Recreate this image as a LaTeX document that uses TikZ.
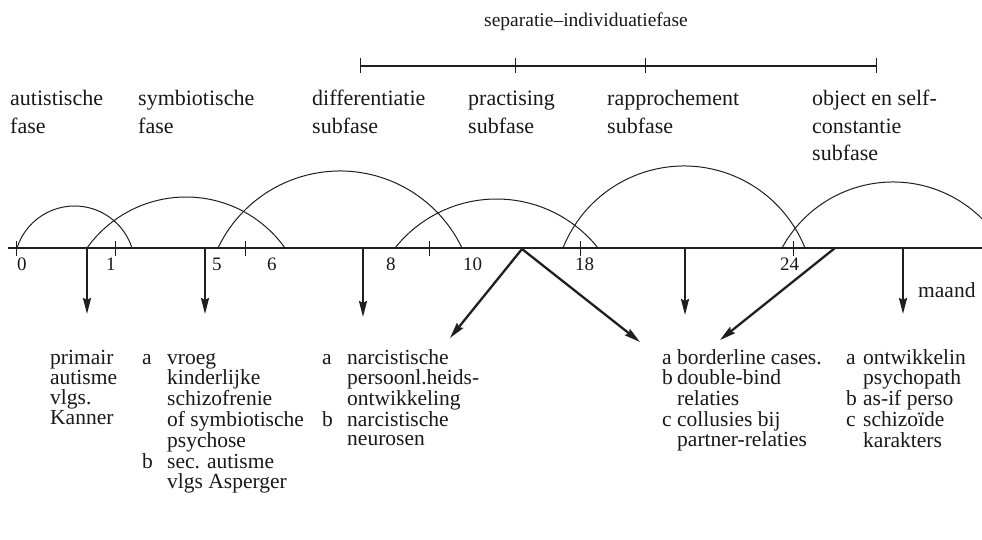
\documentclass[tikz,border=0pt]{standalone}
\usepackage{fontspec}
\setmainfont{Liberation Serif}
\usetikzlibrary{arrows.meta}
\newcommand\stack[1]{\begin{tabular}[t]{@{}l@{}}#1\end{tabular}}
\newcommand\lettered[2]{\begin{tabular}[t]{@{}p{#1}@{}l@{}}#2\end{tabular}}
\newcommand\segarc[3]{%
  \pgfmathsetmacro\segC{(#2-#1)/2}%
  \pgfmathsetmacro\segR{(\segC/#3)*\segC/2+#3/2}%
  \pgfmathsetmacro\segA{atan((\segR-#3)/\segC)}%
  \draw[arcline] (#1,248) arc[start angle=180+\segA, end angle=360-\segA, radius=\segR];}
\begin{document}
\begin{tikzpicture}[x=1pt,y=-1pt,
  toplab/.style={inner sep=0pt, anchor=base west, text=black!90, font=\fontsize{22}{27.5}\selectfont},
  blk/.style={inner sep=0pt, anchor=base west, text=black!90, font=\fontsize{21.5}{19.4}\selectfont},
  num/.style={inner sep=0pt, anchor=base west, text=black!90, font=\fontsize{19}{19}\selectfont},
  axisline/.style={draw=black!88, line width=1.5pt},
  topline/.style={draw=black!88, line width=1.9pt},
  tickmark/.style={draw=black!88, line width=1pt},
  arcline/.style={draw=black!88, line width=1pt},
  arr/.style={draw=black!88, line width=2.3pt, -{Stealth[length=16pt,width=8pt,inset=2pt]}}]
\useasboundingbox (0,0) rectangle (982,540);
\fill[white] (0,0) rectangle (982,540);
\clip (0,0) rectangle (982,540);

% title and top scale
\node[toplab, font=\fontsize{19.5}{20}\selectfont] (title) at (484,27) {separatie--individuatiefase};
\coordinate (tl1) at (360,66);
\coordinate (tl2) at (515,66);
\coordinate (tl3) at (645,66);
\coordinate (tl4) at (876,66);
\draw[topline] (tl1) -- (tl4);
\foreach \p in {tl1,tl2,tl3,tl4} \draw[tickmark] ([yshift=-7pt]\p) -- ([yshift=8pt]\p);

% phase labels
\node[toplab] (ph1) at (10,106) {\stack{autistische\\fase}};
\node[toplab] (ph2) at (138,106) {\stack{symbiotische\\fase}};
\node[toplab] (ph3) at (312,106) {\stack{differentiatie\\subfase}};
\node[toplab] (ph4) at (468,106) {\stack{practising\\subfase}};
\node[toplab] (ph5) at (607,106) {\stack{rapprochement\\subfase}};
\node[toplab] (ph6) at (812,106) {\stack{object en self-\\constantie\\subfase}};

% main axis
\coordinate (ax0) at (8,248);
\coordinate (ax1) at (982,248);
\draw[axisline] (ax0) -- (ax1);
\foreach \x in {16,115,245,429,580,793} \draw[tickmark] (\x,241) -- (\x,256);

% axis numbers
\node[num] (n0) at (17,270) {0};
\node[num] (n1) at (106,270) {1};
\node[num] (n5) at (212,270) {5};
\node[num] (n6) at (267,270) {6};
\node[num] (n8) at (386,270) {8};
\node[num] (n10) at (463,270) {10};
\node[num] (n18) at (575,270) {18};
\node[num] (n24) at (780,270) {24};

% arcs
\segarc{17}{132}{42}
\segarc{87}{285}{51}
\segarc{218}{462}{77}
\segarc{395}{598}{49}
\segarc{563}{805}{82}
\segarc{782}{1004}{66}

% outcome blocks
\node[blk] (b1) at (50,364) {\stack{primair\\autisme\\vlgs.\\Kanner}};
\node[blk] (b2) at (142,364) {\lettered{25pt}{a & vroeg\\ & kinderlijke\\ & schizofrenie\\ & of symbiotische\\ & psychose\\ b & sec. autisme\\ & vlgs Asperger}};
\node[blk] (b3) at (322,364) {\lettered{25pt}{a & narcistische\\ & persoonl.heids-\\ & ontwikkeling\\ b & narcistische\\ & neurosen}};
\node[blk] (b4) at (662,364) {\lettered{15pt}{a & borderline cases.\\ b & double-bind\\ & relaties\\ c & collusies bij\\ & partner-relaties}};
\node[blk] (b5) at (846,364) {\lettered{17pt}{a & ontwikkelin\\ & psychopath\\ b & as-if perso\\ c & schizoïde\\ & karakters}};
\node[blk] (maand) at (918,297) {maand};

% arrows
\coordinate (s1) at (87,248);   \coordinate (e1) at (87,314);
\coordinate (s2) at (205,248);  \coordinate (e2) at (205,314);
\coordinate (s3) at (363,248);  \coordinate (e3) at (363,317);
\coordinate (s4) at (522,249);  \coordinate (e4a) at (450,338); \coordinate (e4b) at (640,342);
\coordinate (s5) at (685,248);  \coordinate (e5) at (685,315);
\coordinate (s6) at (835,248);  \coordinate (e6) at (720,340);
\coordinate (s7) at (903,248);  \coordinate (e7) at (903,314);
\draw[arr] (s1) -- (e1);
\draw[arr] (s2) -- (e2);
\draw[arr] (s3) -- (e3);
\draw[arr] (s4) -- (e4a);
\draw[arr] (s4) -- (e4b);
\draw[arr] (s5) -- (e5);
\draw[arr] (s6) -- (e6);
\draw[arr] (s7) -- (e7);
\end{tikzpicture}
\end{document}
